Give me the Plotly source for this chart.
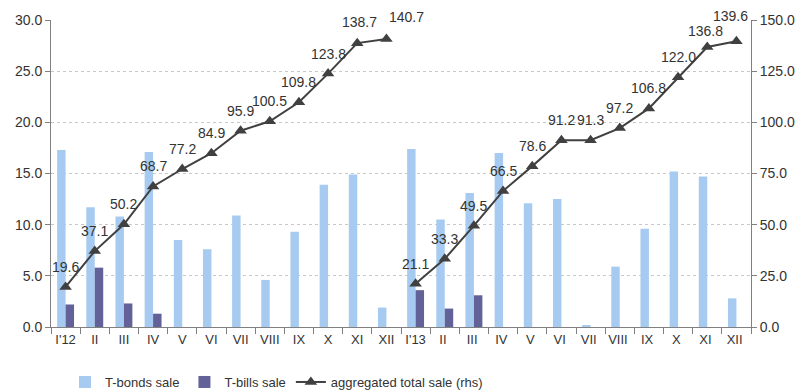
import plotly.graph_objects as go

categories = ["I'12", "II", "III", "IV", "V", "VI", "VII", "VIII", "IX", "X", "XI", "XII",
              "I'13", "II ", "III ", "IV ", "V ", "VI ", "VII ", "VIII ", "IX ", "X ", "XI ", "XII "]
tbonds = [17.3, 11.7, 10.8, 17.1, 8.5, 7.6, 10.9, 4.6, 9.3, 13.9, 14.9, 1.9,
          17.4, 10.5, 13.1, 17.0, 12.1, 12.5, 0.15, 5.9, 9.6, 15.2, 14.7, 2.8]
tbills = [2.2, 5.8, 2.3, 1.3, 0, 0, 0, 0, 0, 0, 0, 0,
          3.6, 1.8, 3.1, 0, 0, 0, 0, 0, 0, 0, 0, 0]
aggregated = [19.6, 37.1, 50.2, 68.7, 77.2, 84.9, 95.9, 100.5, 109.8, 123.8, 138.7, 140.7,
              21.1, 33.3, 49.5, 66.5, 78.6, 91.2, 91.3, 97.2, 106.8, 122.0, 136.8, 139.6]

font_family = "Liberation Sans, Arial, sans-serif"
text_color = "#333333"
line_color = "#404040"

fig = go.Figure()
fig.add_trace(go.Bar(x=categories, y=tbonds, name="T-bonds sale",
                     marker=dict(color="#A7CBF0", line=dict(width=0))))
fig.add_trace(go.Bar(x=categories, y=tbills, name="T-bills sale",
                     marker=dict(color="#626298", line=dict(width=0))))
# cumulative line restarts each year: draw as two segments
for sl, show in [(slice(0, 12), True), (slice(12, 24), False)]:
    fig.add_trace(go.Scatter(x=categories[sl], y=aggregated[sl],
                             name="aggregated total sale (rhs)", legendgroup="agg",
                             showlegend=show, yaxis="y2", mode="lines+markers",
                             line=dict(color=line_color, width=2),
                             marker=dict(symbol="triangle-up", size=11, color=line_color)))

# label nudges (styling only)
label_shift = {11: (20, 22), 23: (-6, 25), 10: (2, 21), 22: (-2, 16)}
annotations = []
for i, (c, v) in enumerate(zip(categories, aggregated)):
    xs, ys = label_shift.get(i, (0, 20))
    annotations.append(dict(x=i, y=v, yref="y2", xref="x", text=f"{v:.1f}",
                            showarrow=False, xshift=xs, yshift=ys,
                            font=dict(size=14, color=text_color, family=font_family)))

fig.update_layout(
    width=801, height=384,
    margin=dict(l=43, r=58, t=12, b=65),
    paper_bgcolor="white", plot_bgcolor="white",
    barmode="group", bargap=0.42, bargroupgap=0,
    font=dict(family=font_family, size=13, color=text_color),
    showlegend=True,
    legend=dict(orientation="h", x=0.02, xanchor="left", yref="container",
                y=0.026, yanchor="middle",
                font=dict(size=13, color=text_color), traceorder="normal"),
    annotations=annotations,
    xaxis=dict(type="category", range=[-0.5, 23.5], autorange=False,
               showline=True, linecolor="#808080", linewidth=1,
               ticks="outside", tickson="boundaries", ticklen=6, tickcolor="#808080",
               showgrid=False, tickangle=0, automargin=False,
               tickfont=dict(size=13, color=text_color)),
    yaxis=dict(range=[0, 30], dtick=5, tickformat=".1f", showline=True,
               linecolor="#808080", ticks="outside", ticklen=5, tickcolor="#808080",
               showgrid=True, gridcolor="#C8C8C8", griddash="dot", gridwidth=1,
               zeroline=False, automargin=False, tickfont=dict(size=14, color=text_color)),
    yaxis2=dict(range=[0, 150], dtick=25, tickformat=".1f", overlaying="y", side="right",
                showline=True, linecolor="#808080", ticks="outside", ticklen=5,
                tickcolor="#808080", showgrid=False, zeroline=False, automargin=False,
                tickfont=dict(size=14, color=text_color)),
)

fig.write_html("out.html")
